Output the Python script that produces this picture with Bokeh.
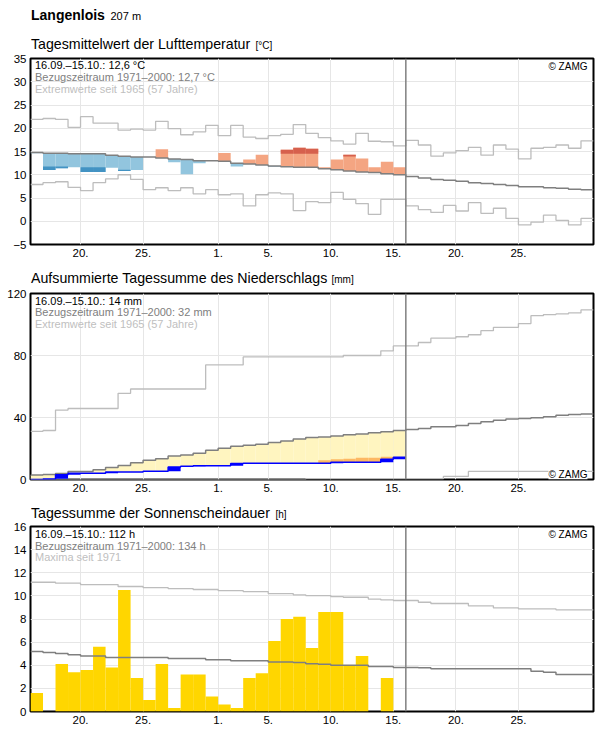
from bokeh.plotting import figure
from bokeh.models import Range1d, FixedTicker, Label, Span
from bokeh.layouts import column
from bokeh.embed import file_html
from bokeh.resources import INLINE

FONT = "Liberation Sans"
N_DAYS = 45          # 16.09. .. 30.10.
N_OBS = 30           # observed period 16.09. .. 15.10.
FRAME_W = 563
LEFT = 30            # canvas x of the plot frames
RIGHT = 3

# x axis: day index 0 = 16.09.
tick_days = [4, 9, 15, 19, 24, 29, 34, 39]
tick_labels = ["20.", "25.", "1.", "5.", "10.", "15.", "20.", "25."]
today_index = 30     # 16.10.

# ---- air temperature, daily mean (°C) ----
temp_obs = [14.6, 11.0, 11.4, 11.6, 10.6, 10.6, 11.5, 10.8, 11.0, 13.8,
            15.5, 12.7, 10.1, 12.5, 13.0, 14.7, 11.8, 13.3, 14.3, 11.7,
            15.4, 15.8, 15.6, 11.6, 13.3, 14.3, 13.5, 11.6, 12.8, 11.6]
temp_strong = [None, 11.8, 11.8, None, 11.6, 11.6, None, 11.1, None, None,
               None, None, None, None, None, None, None, None, None, None,
               14.5, 14.5, 14.5, None, None, 13.9, None, None, None, None]
temp_clim = [14.8, 14.6, 14.6, 14.5, 14.5, 14.5, 14.2, 14.0, 13.8, 13.8,
             13.6, 13.4, 13.3, 13.0, 13.0, 12.9, 12.5, 12.3, 12.1, 11.9,
             11.7, 11.6, 11.6, 11.3, 11.1, 10.8, 10.6, 10.5, 10.2, 10.0,
             9.6, 9.3, 9.0, 8.8, 8.6, 8.3, 8.1, 7.9, 7.7, 7.4,
             7.4, 7.2, 7.1, 6.9, 6.8]
temp_max = [21.9, 22.1, 21.9, 20.2, 22.5, 21.1, 21.1, 19.6, 19.8, 19.6,
            21.5, 19.9, 18.6, 19.2, 20.6, 18.4, 20.6, 18.1, 17.8, 18.4,
            18.7, 20.8, 18.9, 18.0, 17.3, 16.6, 18.9, 17.2, 17.1, 16.2,
            17.4, 16.4, 14.0, 14.7, 15.2, 15.9, 14.2, 16.4, 15.5, 13.4,
            15.7, 15.9, 16.4, 15.7, 17.3]
temp_min = [7.9, 8.3, 8.5, 7.3, 6.6, 8.3, 9.1, 10.0, 9.0, 6.8,
            7.2, 6.6, 7.2, 5.9, 6.8, 5.7, 5.9, 3.3, 5.7, 6.1,
            5.9, 2.3, 4.2, 4.0, 6.2, 4.7, 3.8, 1.5, 4.7, 4.7,
            3.3, 2.5, 1.9, 3.4, 2.2, 4.0, 1.7, 2.8, 0.6, -0.8,
            -0.2, 1.3, 0.2, -0.8, 0.6]

# ---- precipitation, accumulated (mm) ----
precip_obs = [0.0, 0.4, 3.0, 4.1, 4.1, 4.1, 4.8, 4.8, 4.8, 5.3,
              5.3, 8.0, 8.6, 8.9, 8.9, 8.9, 10.3, 10.5, 10.5, 10.5,
              10.5, 10.5, 10.5, 10.5, 11.1, 11.1, 11.1, 11.1, 13.0, 14.3]
precip_prelim = [None, None, None, None, None, None, None, None, None, None,
                 None, None, None, None, None, None, None, None, None, None,
                 None, None, None, 12.5, 13.1, 13.4, 14.0, 14.0, 14.7, None]
precip_clim = [2.9, 3.3, 3.9, 5.2, 5.2, 6.3, 7.8, 9.1, 10.8, 12.4,
               13.4, 15.2, 15.8, 16.9, 18.8, 20.1, 21.4, 22.1, 22.7, 23.8,
               24.9, 26.2, 27.1, 27.5, 28.1, 28.8, 29.4, 30.1, 30.8, 31.6,
               32.2, 32.9, 34.0, 34.0, 34.8, 36.1, 37.2, 38.3, 39.0, 39.4,
               39.8, 40.5, 41.5, 42.0, 42.2]
precip_max = [31.1, 31.6, 44.8, 45.8, 45.8, 45.8, 45.8, 55.6, 58.4, 58.4,
              58.4, 58.4, 58.4, 58.4, 73.9, 73.9, 73.9, 79.1, 79.1, 79.1,
              79.1, 79.1, 79.1, 79.1, 79.1, 80.0, 80.0, 80.0, 83.0, 86.2,
              86.2, 88.4, 91.2, 91.2, 92.1, 93.4, 96.0, 98.2, 98.2, 100.6,
              105.7, 106.4, 106.8, 107.5, 109.4]
precip_min = [0.0, 0.0, 0.0, 0.0, 0.0, 0.0, 0.0, 0.0, 0.0, 0.0,
              0.0, 0.0, 0.0, 0.0, 0.0, 0.0, 0.0, 0.0, 0.0, 0.0,
              0.0, 0.0, 0.5, 0.5, 0.5, 0.5, 0.5, 0.5, 0.5, 0.5,
              0.5, 0.5, 0.5, 2.0, 2.0, 5.2, 5.2, 5.2, 5.2, 5.2,
              5.2, 5.2, 5.2, 5.2, 5.2]

# ---- sunshine duration, daily sum (h) ----
sun_obs = [1.6, 0.0, 4.1, 3.4, 3.6, 5.6, 3.8, 10.5, 2.9, 1.0,
           4.1, 0.3, 3.2, 3.2, 1.3, 0.6, 0.3, 2.9, 3.3, 6.1,
           8.0, 8.2, 5.5, 8.6, 8.6, 4.0, 4.8, 0.0, 2.9, 0.0]
sun_clim = [5.19, 5.10, 5.01, 4.90, 4.81, 4.81, 4.67, 4.67, 4.67, 4.67,
            4.67, 4.58, 4.58, 4.58, 4.47, 4.47, 4.38, 4.38, 4.38, 4.29,
            4.29, 4.24, 4.12, 4.09, 4.00, 4.00, 4.00, 3.90, 3.90, 3.81,
            3.81, 3.78, 3.69, 3.69, 3.69, 3.69, 3.69, 3.69, 3.69, 3.69,
            3.49, 3.40, 3.20, 3.20, 3.20]
sun_max = [11.18, 11.18, 11.10, 11.10, 10.98, 10.98, 10.98, 10.81, 10.81, 10.72,
           10.72, 10.63, 10.63, 10.55, 10.55, 10.46, 10.46, 10.37, 10.37, 10.20,
           10.20, 10.09, 10.03, 10.03, 9.94, 9.88, 9.88, 9.72, 9.65, 9.60,
           9.60, 9.45, 9.34, 9.34, 9.34, 9.14, 9.14, 8.96, 8.96, 8.88,
           8.88, 8.88, 8.79, 8.79, 8.79]

CLIM_COLOR = "#7f7f7f"
EXT_COLOR = "#bdbdbd"


def step_xy(vals):
    """Daily values as a step line spanning each day [i, i+1]."""
    xs, ys = [], []
    for i, v in enumerate(vals):
        if v is None:
            continue
        xs += [i, i + 1]
        ys += [v, v]
    return xs, ys


def header(height, items):
    """Text strip above a panel; items are (x, centre_y, text, size, bold)
    in page pixels (x) and strip pixels from the top (y)."""
    h = figure(title=None, frame_width=FRAME_W, frame_height=height,
               x_range=Range1d(LEFT, LEFT + FRAME_W), y_range=Range1d(height, 0),
               x_axis_location=None, y_axis_location=None,
               min_border_left=LEFT, min_border_right=RIGHT,
               min_border_top=0, min_border_bottom=0,
               toolbar_location=None, output_backend="svg",
               background_fill_color="white", border_fill_color="white")
    h.outline_line_color = None
    h.grid.visible = False
    for x, y, txt, size, bold in items:
        h.add_layout(Label(x=x, y=y, text=txt, text_font=FONT,
                           text_font_size=size,
                           text_font_style="bold" if bold else "normal",
                           text_baseline="middle", text_align="left",
                           text_color="black"))
    return h


def make_panel(y0, y1, yticks, frame_h, border_top, border_bottom):
    p = figure(title=None, frame_width=FRAME_W, frame_height=frame_h,
               x_range=Range1d(0, N_DAYS), y_range=Range1d(y0, y1),
               output_backend="svg", toolbar_location=None,
               min_border_left=LEFT, min_border_right=RIGHT,
               min_border_top=border_top, min_border_bottom=border_bottom,
               background_fill_color="white", border_fill_color="white")
    p.outline_line_color = "black"
    p.outline_line_width = 2
    p.xaxis.ticker = FixedTicker(ticks=tick_days)
    p.xaxis.major_label_overrides = {d: lab for d, lab in zip(tick_days, tick_labels)}
    p.yaxis.ticker = FixedTicker(ticks=yticks)
    for ax in (p.xaxis[0], p.yaxis[0]):
        ax.axis_line_color = None
        ax.major_tick_line_color = None
        ax.minor_tick_line_color = None
        ax.major_tick_out = 0
        ax.major_tick_in = 0
        ax.minor_tick_out = 0
        ax.minor_tick_in = 0
        ax.major_label_text_font = FONT
        ax.major_label_text_font_size = "11.5px"
        ax.major_label_text_color = "black"
        ax.major_label_standoff = 4
    p.xgrid.grid_line_color = "#e6e6e6"
    p.ygrid.grid_line_color = "#e6e6e6"
    p.xgrid.grid_line_width = 1
    p.ygrid.grid_line_width = 1
    return p


def label(p, text, px, py, size, color="black", align="left", bg=None):
    """Text px pixels right of the frame's left edge, centred py pixels
    below its top edge."""
    x = px * N_DAYS / FRAME_W
    yr = p.y_range
    y = yr.end - py * (yr.end - yr.start) / p.frame_height
    p.add_layout(Label(x=x, y=y, text=text, text_font=FONT,
                       text_font_size=size, text_color=color,
                       text_align=align, text_baseline="middle",
                       background_fill_color=bg))


def info_block(p, lines, top):
    colors = ["black", "#808080", "#c0c0c0"]
    for k, (txt, col) in enumerate(zip(lines, colors)):
        label(p, txt, 4.5, top + 11.8 * k, "11px", color=col)


def today_line(p):
    p.add_layout(Span(location=today_index, dimension="height",
                      line_color="#808080", line_width=1.5))


# ================= temperature =================
h1 = header(52, [(30.5, 14.8, "Langenlois", "14px", True),
                 (110, 15.8, "207 m", "11px", False),
                 (30.5, 43, "Tagesmittelwert der Lufttemperatur", "14.2px", False),
                 (255, 44.5, "[°C]", "10px", False)])

p1 = make_panel(-5, 35, list(range(-5, 36, 5)), 186, 6, 20)

warm_l, warm_b, warm_t = [], [], []
cold_l, cold_b, cold_t = [], [], []
for i in range(N_OBS):
    o, c = temp_obs[i], temp_clim[i]
    if o > c:
        warm_l.append(i); warm_b.append(c); warm_t.append(o)
    elif o < c:
        cold_l.append(i); cold_b.append(o); cold_t.append(c)
p1.quad(left=warm_l, right=[v + 1 for v in warm_l], bottom=warm_b, top=warm_t,
        fill_color="#f4a582", line_color=None)
p1.quad(left=cold_l, right=[v + 1 for v in cold_l], bottom=cold_b, top=cold_t,
        fill_color="#92c5de", line_color=None)

sw_l, sw_b, sw_t, sc_l, sc_b, sc_t = [], [], [], [], [], []
for i in range(N_OBS):
    s = temp_strong[i]
    if s is None:
        continue
    o = temp_obs[i]
    if o > s:
        sw_l.append(i); sw_b.append(s); sw_t.append(o)
    else:
        sc_l.append(i); sc_b.append(o); sc_t.append(s)
p1.quad(left=sw_l, right=[v + 1 for v in sw_l], bottom=sw_b, top=sw_t,
        fill_color="#d6604d", line_color=None)
p1.quad(left=sc_l, right=[v + 1 for v in sc_l], bottom=sc_b, top=sc_t,
        fill_color="#4393c3", line_color=None)

for series, col, w in ((temp_max, EXT_COLOR, 1.3), (temp_min, EXT_COLOR, 1.3),
                       (temp_clim, CLIM_COLOR, 1.5)):
    xs, ys = step_xy(series)
    p1.line(xs, ys, line_color=col, line_width=w)
today_line(p1)

info_block(p1, ["16.09.–15.10.: 12,6 °C",
                "Bezugszeitraum 1971–2000: 12,7 °C",
                "Extremwerte seit 1965 (57 Jahre)"], 6.5)
label(p1, "© ZAMG", 557, 7.5, "10px", align="right")

# ================= precipitation =================
h2 = header(25, [(30.5, 13.5, "Aufsummierte Tagessumme des Niederschlags", "14.2px", False),
                 (331, 15, "[mm]", "10px", False)])

p2 = make_panel(0, 120, [0, 40, 80, 120], 186, 4, 20)

def_l, def_b, def_t = [], [], []
for i in range(N_OBS):
    if precip_obs[i] < precip_clim[i]:
        def_l.append(i); def_b.append(precip_obs[i]); def_t.append(precip_clim[i])
p2.quad(left=def_l, right=[v + 1 for v in def_l], bottom=def_b, top=def_t,
        fill_color="#fff5c0", line_color=None)

pre_l, pre_b, pre_t = [], [], []
for i in range(N_OBS):
    if precip_prelim[i] is not None:
        pre_l.append(i); pre_b.append(precip_obs[i]); pre_t.append(precip_prelim[i])
p2.quad(left=pre_l, right=[v + 1 for v in pre_l], bottom=pre_b, top=pre_t,
        fill_color="#fdb863", line_color=None)

inc_l, inc_b, inc_t = [], [], []
prev = 0.0
for i in range(N_OBS):
    if precip_obs[i] > prev:
        inc_l.append(i); inc_b.append(prev); inc_t.append(precip_obs[i])
    prev = precip_obs[i]
p2.quad(left=inc_l, right=[v + 1 for v in inc_l], bottom=inc_b, top=inc_t,
        fill_color="#0000ff", line_color=None)

for series, col, w in ((precip_max, EXT_COLOR, 1.3), (precip_min, EXT_COLOR, 1.3),
                       (precip_clim, CLIM_COLOR, 1.5), (precip_obs, "#0000ff", 1.5)):
    xs, ys = step_xy(series)
    p2.line(xs, ys, line_color=col, line_width=w)
today_line(p2)

info_block(p2, ["16.09.–15.10.: 14 mm",
                "Bezugszeitraum 1971–2000: 32 mm",
                "Extremwerte seit 1965 (57 Jahre)"], 7)
label(p2, "© ZAMG", 557, 186 - 5.5, "10px", align="right", bg="white")

# ================= sunshine =================
h3 = header(23, [(30.5, 13.3, "Tagessumme der Sonnenscheindauer", "14.2px", False),
                 (275, 14.8, "[h]", "10px", False)])

p3 = make_panel(0, 16, list(range(0, 17, 2)), 185, 4, 18)

p3.vbar(x=[i + 0.5 for i in range(N_OBS)], width=1, bottom=0, top=sun_obs,
        fill_color="#ffd600", line_color=None)
for series, col, w in ((sun_max, EXT_COLOR, 1.3), (sun_clim, CLIM_COLOR, 1.5)):
    xs, ys = step_xy(series)
    p3.line(xs, ys, line_color=col, line_width=w)
today_line(p3)

info_block(p3, ["16.09.–15.10.: 112 h",
                "Bezugszeitraum 1971–2000: 134 h",
                "Maxima seit 1971"], 7.3)
label(p3, "© ZAMG", 557, 8, "10px", align="right")

layout = column(h1, p1, h2, p2, h3, p3, spacing=0)
open("out.html", "w").write(file_html(layout, INLINE))
